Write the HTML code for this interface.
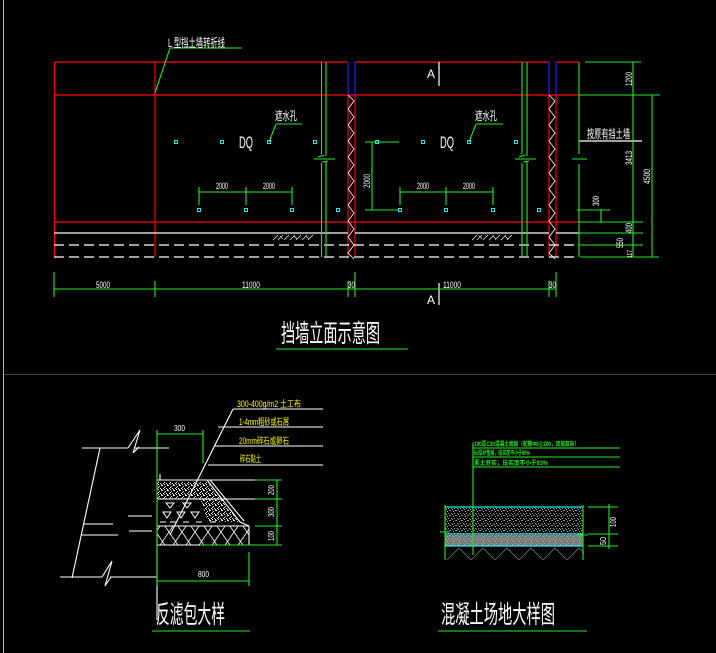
<!DOCTYPE html>
<html><head><meta charset="utf-8"><style>
html,body{margin:0;padding:0;background:#000;width:716px;height:653px;overflow:hidden}
svg{display:block}
text{font-family:"Liberation Sans","Noto Sans CJK SC",sans-serif}
</style></head><body>
<svg width="716" height="653" viewBox="0 0 716 653" xmlns="http://www.w3.org/2000/svg">
<defs>
<pattern id="grav" width="6" height="5" patternUnits="userSpaceOnUse">
<rect x="0" y="0" width="1" height="1" fill="#eee"/><rect x="3" y="1" width="1" height="1" fill="#eee"/>
<rect x="5" y="0" width="1" height="1" fill="#eee"/><rect x="1" y="3" width="1" height="1" fill="#eee"/>
<rect x="4" y="3" width="1" height="1" fill="#eee"/><rect x="2" y="4" width="1" height="1" fill="#eee"/>
<rect x="5" y="4" width="1" height="1" fill="#eee"/><rect x="2" y="2" width="1" height="1" fill="#eee"/>
</pattern>
<pattern id="grav2" width="6" height="5" patternUnits="userSpaceOnUse">
<rect x="0" y="0" width="1" height="1" fill="#999"/><rect x="3" y="1" width="1" height="1" fill="#bbb"/>
<rect x="1" y="3" width="1" height="1" fill="#999"/><rect x="4" y="3" width="1" height="1" fill="#aaa"/>
<rect x="5" y="0" width="1" height="1" fill="#888"/><rect x="2" y="4" width="1" height="1" fill="#aaa"/>
</pattern>
<pattern id="xh" width="13" height="19" patternUnits="userSpaceOnUse">
<path d="M0 0 L13 19 M13 0 L0 19" stroke="#fff" stroke-width="0.8"/>
</pattern>
</defs>
<line x1="3.5" y1="0" x2="3.5" y2="653" stroke="#2ee" stroke-width="1"/>
<line x1="4" y1="374.5" x2="716" y2="374.5" stroke="#444" stroke-width="1"/>

<g stroke="#f00" stroke-width="1.2" fill="none">
<path d="M54.5 62 H348 M355 62 H549 M556 62 H579"/>
<path d="M54.5 95 H579 M54.5 222 H579"/>
<path d="M54.5 62 V257 M155 62 V257 M348 95 V257 M355 95 V257 M549 95 V257 M556 95 V257"/>
</g>
<g stroke="#22f" stroke-width="1.2"><path d="M348 62 V95 M355 62 V95 M549 62 V95 M556 62 V95"/></g>
<g stroke="#fff" stroke-width="1.2" fill="none">
<path d="M54 233 H348 M355 233 H549 M556 233 H579"/>
<path d="M54 245 H579 M54 257 H579" stroke-dasharray="10 5"/>
<path d="M348 95 l6 6 l-6 8 l6 8 l-6 8 l6 8 l-6 8 l6 8 l-6 8 l6 8 l-6 8 l6 8 l-6 8 l6 8 l-6 8 l6 8 l-6 8 l6 8 l-6 8 l6 8 l-6 8 l6 6" stroke-width="0.8"/>
<path d="M549 95 l6 6 l-6 8 l6 8 l-6 8 l6 8 l-6 8 l6 8 l-6 8 l6 8 l-6 8 l6 8 l-6 8 l6 8 l-6 8 l6 8 l-6 8 l6 8 l-6 8 l6 8 l-6 8 l6 6" stroke-width="0.8"/>
<path d="M273 240 l5 -5 M278 240 l5 -5 M284 240 l5 -5 M290 240 l5 -5 M296 240 l5 -5 M302 240 l5 -5 M308 240 l5 -5 M280 236 l3 3 M294 236 l3 3 M306 236 l3 3" stroke-width="0.7"/>
<path d="M472 240 l5 -5 M477 240 l5 -5 M483 240 l5 -5 M489 240 l5 -5 M495 240 l5 -5 M501 240 l5 -5 M507 240 l5 -5 M479 236 l3 3 M493 236 l3 3 M505 236 l3 3" stroke-width="0.7"/>
<path d="M439 62 V86 M439 283 V305"/>
<path d="M579 141 H642"/>
</g>
<g stroke="#2e2" stroke-width="1.1" fill="none">
<path d="M321.5 62 V154 M321.5 163 V257 M326 62 V156 M326 161 V257 M314 159 H335 M318 157 l6 -2 M322 162 l6 -1"/>
<path d="M522 62 V154 M522 163 V257 M527 62 V156 M527 161 V257 M515 159 H536 M519 157 l6 -2 M523 162 l6 -1"/>
<path d="M579 62 V154 M579 164 V257 M572 159 H587"/>
<path d="M54 289 H556 M54 272 V297 M155 281 V297 M348 281 V297 M355 272 V297 M549 281 V297 M556 272 V297"/>
<path d="M199 192 H292 M199 187 V205 M246 187 V205 M292 187 V205"/>
<path d="M400 192 H493 M400 187 V205 M446 187 V205 M493 187 V205"/>
<path d="M365 142 H399 M365 210 H399 M372 142 V210"/>
<path d="M170 48 H242 M170 48 L155 93"/>
<path d="M276 124 H302 M276 124 L269 142"/>
<path d="M476 124 H503 M476 124 L469 142"/>
<path d="M585 62 H641 M579 95 H660 M579 222 H643 M579 233 H643 M579 245 H643 M580 257 H659"/>
<path d="M633 62 V257 M652 95 V257"/>
<path d="M577 210 H610 M601 210 V222 M579 222 H610"/>
<path d="M276 349 H408"/>
</g>
<g fill="none" stroke="#2ee" stroke-width="1">
<rect x="174.5" y="140.5" width="3" height="3"/><rect x="220.5" y="140.5" width="3" height="3"/><rect x="267.5" y="140.5" width="3" height="3"/><rect x="313.5" y="140.5" width="3" height="3"/>
<rect x="197.5" y="208.5" width="3" height="3"/><rect x="244.5" y="208.5" width="3" height="3"/><rect x="290.5" y="208.5" width="3" height="3"/><rect x="336.5" y="208.5" width="3" height="3"/>
<rect x="375.5" y="140.5" width="3" height="3"/><rect x="421.5" y="140.5" width="3" height="3"/><rect x="467.5" y="140.5" width="3" height="3"/><rect x="514.5" y="140.5" width="3" height="3"/>
<rect x="398.5" y="208.5" width="3" height="3"/><rect x="444.5" y="208.5" width="3" height="3"/><rect x="491.5" y="208.5" width="3" height="3"/><rect x="537.5" y="208.5" width="3" height="3"/>
</g>
<g fill="#fff" font-size="9" lengthAdjust="spacingAndGlyphs">
<text x="168" y="47" font-size="12" textLength="57" lengthAdjust="spacingAndGlyphs">L 型挡土墙转折线</text>
<text x="275" y="120" font-size="12" textLength="22" lengthAdjust="spacingAndGlyphs">遮水孔</text>
<text x="475" y="120" font-size="12" textLength="22" lengthAdjust="spacingAndGlyphs">遮水孔</text>
<text x="239" y="148" font-size="17" textLength="14" lengthAdjust="spacingAndGlyphs">DQ</text>
<text x="440" y="148" font-size="17" textLength="14" lengthAdjust="spacingAndGlyphs">DQ</text>
<text x="216" y="189" textLength="12" lengthAdjust="spacingAndGlyphs">2000</text><text x="263" y="189" textLength="12" lengthAdjust="spacingAndGlyphs">2000</text>
<text x="417" y="189" textLength="12" lengthAdjust="spacingAndGlyphs">2000</text><text x="463" y="189" textLength="12" lengthAdjust="spacingAndGlyphs">2000</text>
<text x="96" y="288" textLength="14" lengthAdjust="spacingAndGlyphs">5000</text><text x="242" y="288" textLength="18" lengthAdjust="spacingAndGlyphs">11000</text>
<text x="348" y="288" textLength="7" lengthAdjust="spacingAndGlyphs">30</text><text x="443" y="288" textLength="18" lengthAdjust="spacingAndGlyphs">11000</text><text x="549" y="288" textLength="7" lengthAdjust="spacingAndGlyphs">30</text>
<text x="427" y="78" font-size="12">A</text><text x="427" y="304" font-size="12">A</text>
<text x="587" y="138" font-size="12" textLength="43" lengthAdjust="spacingAndGlyphs">按原有挡土墙</text>
<text transform="translate(370,188) rotate(-90)" textLength="14" lengthAdjust="spacingAndGlyphs">2000</text>
<text transform="translate(632,86) rotate(-90)" textLength="14" lengthAdjust="spacingAndGlyphs">1200</text>
<text transform="translate(632,165) rotate(-90)" textLength="14" lengthAdjust="spacingAndGlyphs">3413</text>
<text transform="translate(650,184) rotate(-90)" textLength="15" lengthAdjust="spacingAndGlyphs">4500</text>
<text transform="translate(599,206) rotate(-90)" textLength="10" lengthAdjust="spacingAndGlyphs">300</text>
<text transform="translate(632,233) rotate(-90)" textLength="10" lengthAdjust="spacingAndGlyphs">400</text>
<text transform="translate(623,248) rotate(-90)" textLength="10" lengthAdjust="spacingAndGlyphs">550</text>
<text transform="translate(632,258) rotate(-90)" font-size="7" textLength="8" lengthAdjust="spacingAndGlyphs">117</text>
<text x="281" y="342" font-size="25" textLength="99" lengthAdjust="spacingAndGlyphs">挡墙立面示意图</text>
</g>

<g stroke="#fff" stroke-width="1.1" fill="none">
<path d="M82 448 H128 M134 448 H169 M128 448 l12 -18 l-7 23 l6 -6"/>
<path d="M100 448 L72 578"/>
<path d="M60 577 H102 M102 577 l10 -16 l-7 25 l6 -9 M110 577 H157"/>
<path d="M128 516 H152 M84 524 H113 M129 531 H152 M81 535 H118"/>
<path d="M233 409 H323 M218 427 H323 M215 446 H323 M208 465 H323"/>
<path d="M233 409 L170 535"/>
<path d="M160 474 V480 H218"/>
<path d="M157 480 H255 M157 499 H255 M157 526 H249 V545 H157"/>
<path d="M207 480 L240 522 L249 526 M210 480 L244 521"/>
<path d="M157 526 V620"/>
</g>
<path d="M157 482 H207 L222 499 H157 Z" fill="url(#grav)"/>
<path d="M200 499 H222 L240 522 L208 522 Z" fill="url(#grav)"/>
<rect x="157" y="526" width="92" height="19" fill="url(#xh)"/>
<g fill="none" stroke="#fff" stroke-width="1">
<path d="M163 512 l4 6 l4 -6 Z M177 512 l4 6 l4 -6 Z M191 512 l4 6 l4 -6 Z M166 503 l4 5 l4 -5 Z M183 503 l4 5 l4 -5 Z M160 522 h6 M170 522 h6 M183 522 h6 M196 522 h6 M210 522 h6"/>
</g>
<g stroke="#2e2" stroke-width="1.1" fill="none">
<path d="M157 430 V586 M157 434 H203 M203 430 V463"/>
<path d="M157 581 H249 M249 552 V586"/>
<path d="M255 480 H282 M255 499 H282 M255 526 H282 M200 545 H282 M277 480 V545"/>
<path d="M152 631 H250"/>
</g>
<g fill="#ff0" font-size="9">
<text x="237" y="407" textLength="64" lengthAdjust="spacingAndGlyphs">300-400g/m2 土工布</text>
<text x="239" y="425" textLength="50" lengthAdjust="spacingAndGlyphs">1-4mm粗砂或石屑</text>
<text x="239" y="444" textLength="50" lengthAdjust="spacingAndGlyphs">20mm碎石或卵石</text>
<text x="240" y="462" textLength="21" lengthAdjust="spacingAndGlyphs">碎石黏土</text>
</g>
<g fill="#fff" font-size="8">
<text x="174" y="431" textLength="11" lengthAdjust="spacingAndGlyphs">300</text>
<text x="198" y="577" textLength="11" lengthAdjust="spacingAndGlyphs">800</text>
<text transform="translate(274,495) rotate(-90)" textLength="10" lengthAdjust="spacingAndGlyphs">200</text>
<text transform="translate(274,517) rotate(-90)" textLength="10" lengthAdjust="spacingAndGlyphs">300</text>
<text transform="translate(274,541) rotate(-90)" textLength="10" lengthAdjust="spacingAndGlyphs">100</text>
<text x="156" y="623" font-size="25" textLength="69" lengthAdjust="spacingAndGlyphs">反滤包大样</text>
</g>

<rect x="445" y="507" width="138" height="27" fill="url(#grav2)"/>
<rect x="445" y="535" width="138" height="11" fill="#777"/>
<rect x="445" y="535" width="138" height="11" fill="url(#grav2)"/>
<g stroke="#777" stroke-width="0.8" fill="none">
<path d="M447 560 l12 -12 l12 12 M471 560 l12 -12 l12 12 M495 560 l12 -12 l12 12 M519 560 l12 -12 l12 12 M543 560 l12 -12 l12 12 M567 560 l12 -12 l5 5"/>
</g>
<g stroke="#2ee" stroke-width="1.2"><path d="M445 507 H583 M445 534 H583 M445 546 H583"/></g>
<g stroke="#2e2" stroke-width="1.1" fill="none">
<path d="M473 443 V555 M473 448 H620 M473 457 H620 M473 467 H620"/>
<path d="M445 505 V560 M583 505 V560 M440 532 H450 M578 535 H588"/>
<path d="M588 507 H618 M588 534 H618 M588 546 H618 M609 504 V549"/>
<path d="M438 631 H587"/>
</g>
<g fill="#2e2" font-size="6" font-weight="bold">
<text x="474" y="446" textLength="105" lengthAdjust="spacingAndGlyphs">100厚C30混凝土面层（配筋Φ8@200，双层双向）</text>
<text x="474" y="455" textLength="56" lengthAdjust="spacingAndGlyphs">50厚砂垫层，压实度不小于90%</text>
<text x="474" y="465" textLength="74" lengthAdjust="spacingAndGlyphs">素土夯实，压实度不小于93%</text>
</g>
<g fill="#fff" font-size="8">
<text transform="translate(616,527) rotate(-90)" textLength="10" lengthAdjust="spacingAndGlyphs">100</text>
<text transform="translate(606,545) rotate(-90)" textLength="8" lengthAdjust="spacingAndGlyphs">50</text>
<text x="441" y="623" font-size="25" textLength="114" lengthAdjust="spacingAndGlyphs">混凝土场地大样图</text>
</g>
</svg>
</body></html>
